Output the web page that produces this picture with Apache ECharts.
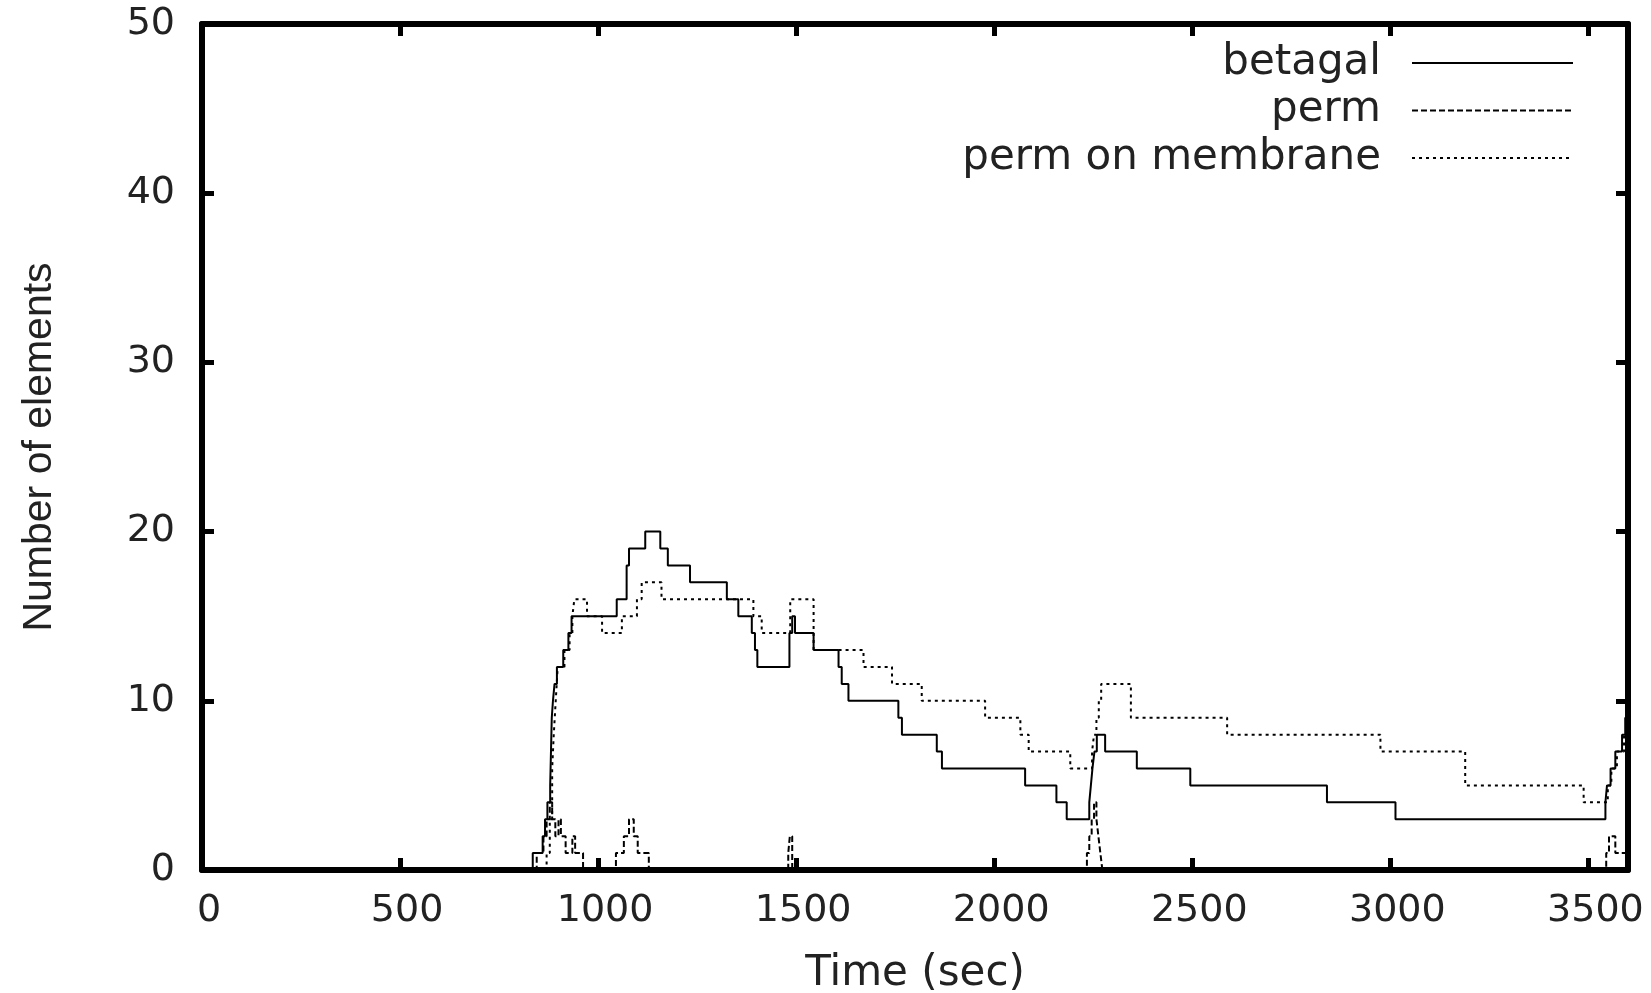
<!DOCTYPE html>
<html>
<head>
<meta charset="utf-8">
<script src="https://cdn.jsdelivr.net/npm/echarts@6/dist/echarts.min.js"></script>
<style>
  html, body { margin: 0; padding: 0; background: #fff; }
  #chart { width: 1651px; height: 993px; }
</style>
</head>
<body>
<div id="chart"></div>
<script>
// time (sec) where each step starts, and the count held from there
const betagalTime = [0, 835, 860, 866, 872, 879, 883, 886, 890, 896, 912, 925, 933, 1047, 1072, 1078, 1119, 1157, 1176, 1232, 1325, 1354, 1388, 1396, 1402, 1483, 1490, 1497, 1544, 1607, 1615, 1632, 1758, 1767, 1855, 1868, 2078, 2157, 2183, 2240, 2244, 2248, 2253, 2259, 2280, 2360, 2495, 2840, 3013, 3543, 3547, 3556, 3568, 3585, 3593, 3600]
const betagalCount = [0, 1, 2, 3, 4, 5, 9, 10, 11, 12, 13, 14, 15, 16, 18, 19, 20, 19, 18, 17, 16, 15, 14, 13, 12, 14, 15, 14, 13, 12, 11, 10, 9, 8, 7, 6, 5, 4, 3, 4, 5, 6, 7, 8, 7, 6, 5, 4, 3, 4, 5, 6, 7, 8, 9, 9]

const permTime = [0, 845, 862, 870, 878, 884, 892, 900, 906, 918, 935, 942, 962, 1045, 1065, 1078, 1090, 1100, 1128, 1480, 1484, 1490, 2234, 2240, 2246, 2252, 2258, 2263, 2268, 2273, 3545, 3552, 3568, 3600]
const permCount = [0, 1, 2, 3, 4, 3, 2, 3, 2, 1, 2, 1, 0, 1, 2, 3, 2, 1, 0, 1, 2, 0, 1, 2, 3, 4, 3, 2, 1, 0, 1, 2, 1, 1]

const membraneTime = [0, 870, 878, 884, 888, 893, 898, 915, 928, 935, 940, 972, 1010, 1060, 1098, 1110, 1160, 1392, 1413, 1485, 1544, 1670, 1742, 1817, 1977, 2066, 2087, 2192, 2247, 2252, 2258, 2264, 2270, 2345, 2588, 2975, 3189, 3488, 3549, 3558, 3572, 3590, 3600]
const membraneCount = [0, 1, 3, 6, 8, 10, 12, 13, 14, 15, 16, 15, 14, 15, 16, 17, 16, 15, 14, 16, 13, 12, 11, 10, 9, 8, 7, 6, 7, 8, 9, 10, 11, 9, 8, 7, 5, 4, 5, 6, 7, 8, 8]

const xTicks = { min: 0, max: 3600, interval: 500 }
const yTicks = { min: 0, max: 50, interval: 10 }

function pairs(ts, vs) {
  return ts.map((t, i) => [t, vs[i]])
}

const chart = echarts.init(document.getElementById('chart'), null, { renderer: 'canvas' })

const frameLine = { show: true, onZero: false, lineStyle: { color: '#000', width: 6 } }
const frameTick = { show: true, inside: true, length: 12, lineStyle: { color: '#000', width: 5 } }

const option = {
  animation: false,
  backgroundColor: '#fff',
  // keep the plot box fixed, labels may sit outside it
  grid: { left: 202, right: 23, top: 24, bottom: 123, outerBoundsMode: 'none', containLabel: false },
  legend: {
    orient: 'vertical',
    align: 'right',
    right: 72,
    top: 37,
    itemWidth: 161,
    itemHeight: 30,
    itemGap: 5.5,
    selectedMode: false,
    itemStyle: { opacity: 0 },
    textStyle: {
      fontFamily: 'DejaVu Sans',
      fontSize: 42,
      color: '#222',
      padding: [0, 26, 0, 0]
    },
    data: ['betagal', 'perm', 'perm on membrane']
  },
  xAxis: [{
    type: 'value',
    min: xTicks.min,
    max: xTicks.max,
    interval: xTicks.interval,
    position: 'bottom',
    name: 'Time (sec)',
    nameLocation: 'middle',
    nameGap: 83,
    nameTextStyle: { fontFamily: 'DejaVu Sans', fontSize: 42, lineHeight: 42, color: '#222' },
    axisLine: frameLine,
    axisTick: frameTick,
    splitLine: { show: false },
    axisLabel: {
      showMaxLabel: false,
      margin: 22,
      padding: [0, 0, 0, 14],
      fontFamily: 'DejaVu Sans',
      fontSize: 38,
      color: '#222',
      formatter: v => String(v)
    }
  }, {
    type: 'value',
    min: xTicks.min,
    max: xTicks.max,
    interval: xTicks.interval,
    position: 'top',
    axisLine: frameLine,
    axisTick: frameTick,
    splitLine: { show: false },
    axisLabel: { show: false }
  }],
  yAxis: [{
    type: 'value',
    min: yTicks.min,
    max: yTicks.max,
    interval: yTicks.interval,
    position: 'left',
    name: 'Number of elements',
    nameLocation: 'middle',
    nameGap: 142,
    nameTextStyle: { fontFamily: 'Liberation Sans', fontSize: 41, lineHeight: 41, color: '#222' },
    axisLine: frameLine,
    axisTick: frameTick,
    splitLine: { show: false },
    axisLabel: {
      margin: 27,
      fontFamily: 'DejaVu Sans',
      fontSize: 38,
      color: '#222'
    }
  }, {
    type: 'value',
    min: yTicks.min,
    max: yTicks.max,
    interval: yTicks.interval,
    position: 'right',
    axisLine: frameLine,
    axisTick: frameTick,
    splitLine: { show: false },
    axisLabel: { show: false }
  }],
  series: [{
    name: 'betagal',
    type: 'line',
    step: 'end',
    symbol: 'none',
    data: pairs(betagalTime, betagalCount),
    lineStyle: { color: '#000', width: 2, type: 'solid' },
    itemStyle: { color: '#000' },
    z: 4
  }, {
    name: 'perm',
    type: 'line',
    step: 'end',
    symbol: 'none',
    data: pairs(permTime, permCount),
    lineStyle: { color: '#000', width: 2, type: [6, 3] },
    itemStyle: { color: '#000' },
    z: 3
  }, {
    name: 'perm on membrane',
    type: 'line',
    step: 'end',
    symbol: 'none',
    data: pairs(membraneTime, membraneCount),
    lineStyle: { color: '#000', width: 2, type: [3, 4] },
    itemStyle: { color: '#000' },
    z: 3
  }]
}

chart.setOption(option)
</script>
</body>
</html>
